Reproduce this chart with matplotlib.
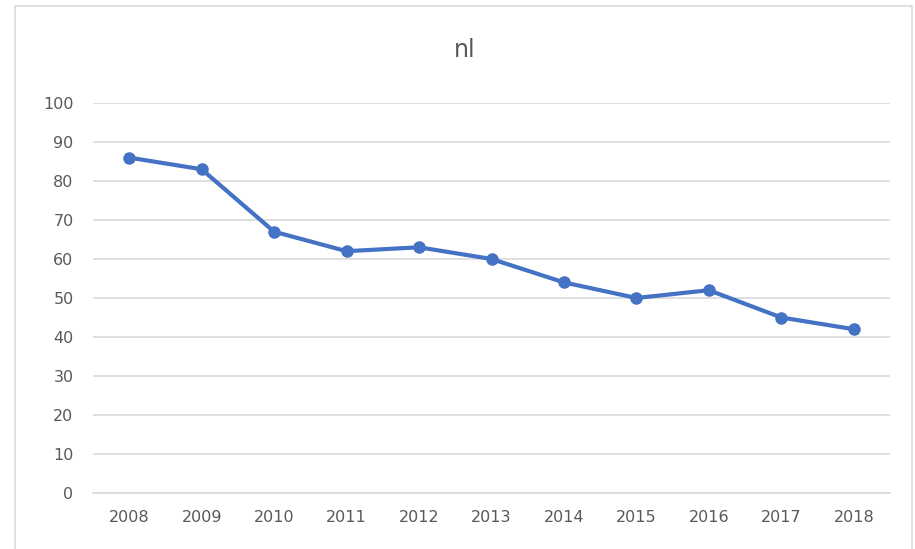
import matplotlib.pyplot as plt
from matplotlib.patches import Rectangle

years = ["2008", "2009", "2010", "2011", "2012", "2013", "2014", "2015", "2016", "2017", "2018"]
values = [86, 83, 67, 62, 63, 60, 54, 50, 52, 45, 42]
y_ticks = [0, 10, 20, 30, 40, 50, 60, 70, 80, 90, 100]

line_color = "#4472C4"
grid_color = "#D9D9D9"
text_color = "#595959"

fig = plt.figure(figsize=(9.15, 5.49), dpi=100)
ax = fig.add_axes([93 / 915, 56 / 549, 797 / 915, 390 / 549])

# chart border
fig.patches.append(Rectangle((15 / 915, -0.01), 897 / 915, 1 - 6 / 549 + 0.01,
                             transform=fig.transFigure, fill=False,
                             edgecolor="#D9D9D9", linewidth=1.2))

x = list(range(len(years)))
ax.plot(x, values, color=line_color, linewidth=3, marker="o", markersize=8,
        solid_capstyle="round", zorder=3)

ax.set_xlim(-0.5, len(years) - 0.5)
ax.set_ylim(0, 100)
ax.set_yticks(y_ticks)
ax.set_xticks(x)
ax.set_xticklabels(years)
ax.grid(axis="y", color=grid_color, linewidth=1.2)
ax.set_axisbelow(True)
for side in ["top", "right", "left"]:
    ax.spines[side].set_visible(False)
ax.spines["bottom"].set_color(grid_color)
ax.spines["bottom"].set_linewidth(1.2)
ax.tick_params(length=0, labelsize=11.5, colors=text_color, pad=14)
ax.tick_params(axis="x", pad=12)

fig.text(465 / 915, 1 - 50 / 549, "nl", ha="center", va="center",
         fontsize=17, color=text_color)

fig.savefig("out.png", dpi=100)
